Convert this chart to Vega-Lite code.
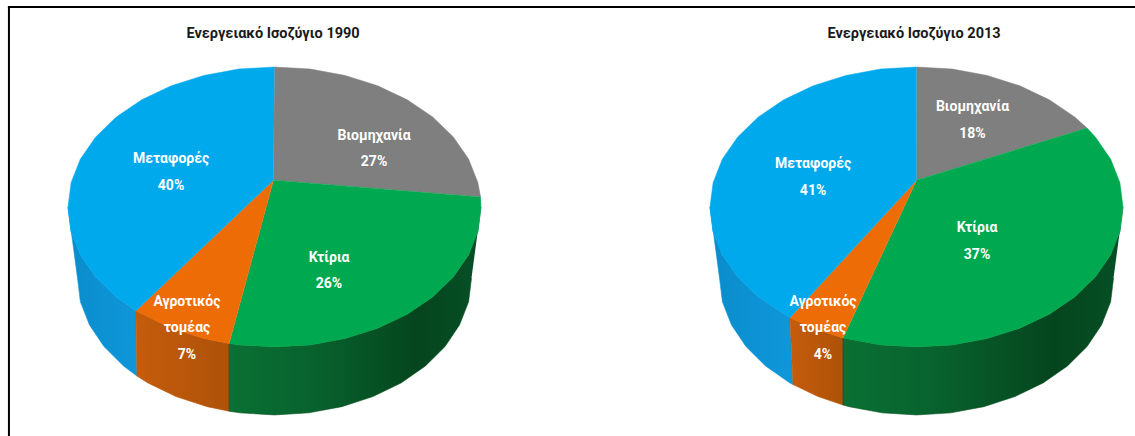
{
  "$schema": "https://vega.github.io/schema/vega-lite/v6.json",
  "padding": 0,
  "autosize": {"type": "pad"},
  "spacing": 0,
  "bounds": "flush",
  "background": "white",
  "config": {"view": {"stroke": null}},
  "datasets": {
    "labels": [
      {"year": 1990, "sector": "Βιομηχανία", "share": 27, "label": "Βιομηχανία\n27%", "x": 48.2, "y": 34.4},
      {"year": 1990, "sector": "Κτίρια", "share": 26, "label": "Κτίρια\n26%", "x": 26.4, "y": -24.7},
      {"year": 1990, "sector": "Αγροτικός τομέας", "share": 7, "label": "Αγροτικός\nτομέας\n7%", "x": -42.4, "y": -46},
      {"year": 1990, "sector": "Μεταφορές", "share": 40, "label": "Μεταφορές\n40%", "x": -50.1, "y": 23.2},
      {"year": 2013, "sector": "Βιομηχανία", "share": 18, "label": "Βιομηχανία\n18%", "x": 27.1, "y": 48.4},
      {"year": 2013, "sector": "Κτίρια", "share": 37, "label": "Κτίρια\n37%", "x": 29.3, "y": -10.2},
      {"year": 2013, "sector": "Αγροτικός τομέας", "share": 4, "label": "Αγροτικός\nτομέας\n4%", "x": -45.3, "y": -46},
      {"year": 2013, "sector": "Μεταφορές", "share": 41, "label": "Μεταφορές\n41%", "x": -50.1, "y": 20.8}
    ],
    "titles": [
      {"year": 1990, "title": "Ενεργειακό Ισοζύγιο 1990", "x": -0.7, "y": 84},
      {"year": 2013, "title": "Ενεργειακό Ισοζύγιο 2013", "x": -1.2, "y": 84}
    ],
    "frame": [
      {"year": 1990, "x": -128.6, "x2": -128.6, "y": -110.9, "y2": 96.9},
      {"year": 1990, "x": -128.6, "x2": 141.65, "y": 96.9, "y2": 96.9},
      {"year": 2013, "x": -169.25, "x2": 105.8, "y": 96.9, "y2": 96.9}
    ],
    "slices1990": [
      {"sector":"Βιομηχανία","n":0,"x":-0.5,"y":13},{"sector":"Βιομηχανία","n":1,"x":0,"y":67.8},{"sector":"Βιομηχανία","n":2,"x":17.4,"y":66.8},{"sector":"Βιομηχανία","n":3,"x":34.2,"y":63.7},{"sector":"Βιομηχανία","n":4,"x":50,"y":58.7},{"sector":"Βιομηχανία","n":5,"x":64.3,"y":51.9},{"sector":"Βιομηχανία","n":6,"x":76.6,"y":43.6},{"sector":"Βιομηχανία","n":7,"x":86.6,"y":33.9},{"sector":"Βιομηχανία","n":8,"x":94,"y":23.2},{"sector":"Βιομηχανία","n":9,"x":98.5,"y":11.8},{"sector":"Βιομηχανία","n":10,"x":99.8,"y":4.8},
      {"sector":"Κτίρια","n":0,"x":-0.5,"y":13},{"sector":"Κτίρια","n":1,"x":99.8,"y":4.8},{"sector":"Κτίρια","n":2,"x":100,"y":0},{"sector":"Κτίρια","n":3,"x":98.5,"y":-11.8},{"sector":"Κτίρια","n":4,"x":94,"y":-23.2},{"sector":"Κτίρια","n":5,"x":86.6,"y":-33.9},{"sector":"Κτίρια","n":6,"x":76.6,"y":-43.6},{"sector":"Κτίρια","n":7,"x":64.3,"y":-51.9},{"sector":"Κτίρια","n":8,"x":50,"y":-58.7},{"sector":"Κτίρια","n":9,"x":34.2,"y":-63.7},{"sector":"Κτίρια","n":10,"x":17.4,"y":-66.8},{"sector":"Κτίρια","n":11,"x":0,"y":-67.8},{"sector":"Κτίρια","n":12,"x":-17.4,"y":-66.8},{"sector":"Κτίρια","n":13,"x":-22,"y":-66.1},
      {"sector":"Αγροτικός τομέας","n":0,"x":-0.5,"y":13},{"sector":"Αγροτικός τομέας","n":1,"x":-22,"y":-66.1},{"sector":"Αγροτικός τομέας","n":2,"x":-34.2,"y":-63.7},{"sector":"Αγροτικός τομέας","n":3,"x":-50,"y":-58.7},{"sector":"Αγροτικός τομέας","n":4,"x":-67.1,"y":-50.3},
      {"sector":"Μεταφορές","n":0,"x":-0.5,"y":13},{"sector":"Μεταφορές","n":1,"x":-67.1,"y":-50.3},{"sector":"Μεταφορές","n":2,"x":-76.6,"y":-43.6},{"sector":"Μεταφορές","n":3,"x":-86.6,"y":-33.9},{"sector":"Μεταφορές","n":4,"x":-94,"y":-23.2},{"sector":"Μεταφορές","n":5,"x":-98.5,"y":-11.8},{"sector":"Μεταφορές","n":6,"x":-100,"y":0},{"sector":"Μεταφορές","n":7,"x":-98.5,"y":11.8},{"sector":"Μεταφορές","n":8,"x":-94,"y":23.2},{"sector":"Μεταφορές","n":9,"x":-86.6,"y":33.9},{"sector":"Μεταφορές","n":10,"x":-76.6,"y":43.6},{"sector":"Μεταφορές","n":11,"x":-64.3,"y":51.9},{"sector":"Μεταφορές","n":12,"x":-50,"y":58.7},{"sector":"Μεταφορές","n":13,"x":-34.2,"y":63.7},{"sector":"Μεταφορές","n":14,"x":-17.4,"y":66.8},{"sector":"Μεταφορές","n":15,"x":0,"y":67.8}
    ],
    "walls1990": [
      {"sector":"Κτίρια","n":0,"x":100,"y":0},{"sector":"Κτίρια","n":1,"x":98.5,"y":-11.8},{"sector":"Κτίρια","n":2,"x":94,"y":-23.2},{"sector":"Κτίρια","n":3,"x":86.6,"y":-33.9},{"sector":"Κτίρια","n":4,"x":76.6,"y":-43.6},{"sector":"Κτίρια","n":5,"x":64.3,"y":-51.9},{"sector":"Κτίρια","n":6,"x":50,"y":-58.7},{"sector":"Κτίρια","n":7,"x":34.2,"y":-63.7},{"sector":"Κτίρια","n":8,"x":17.4,"y":-66.8},{"sector":"Κτίρια","n":9,"x":0,"y":-67.8},{"sector":"Κτίρια","n":10,"x":-17.4,"y":-66.8},{"sector":"Κτίρια","n":11,"x":-22,"y":-66.1},{"sector":"Κτίρια","n":12,"x":-22,"y":-98.9},{"sector":"Κτίρια","n":13,"x":-16.6,"y":-99.7},{"sector":"Κτίρια","n":14,"x":0,"y":-100.7},{"sector":"Κτίρια","n":15,"x":16.6,"y":-99.7},{"sector":"Κτίρια","n":16,"x":32.6,"y":-96.7},{"sector":"Κτίρια","n":17,"x":47.7,"y":-91.8},{"sector":"Κτίρια","n":18,"x":61.3,"y":-85.2},{"sector":"Κτίρια","n":19,"x":73.1,"y":-77},{"sector":"Κτίρια","n":20,"x":82.6,"y":-67.55},{"sector":"Κτίρια","n":21,"x":89.6,"y":-57.1},{"sector":"Κτίρια","n":22,"x":94,"y":-45.9},{"sector":"Κτίρια","n":23,"x":95.4,"y":-34.4},
      {"sector":"Αγροτικός τομέας","n":0,"x":-22,"y":-66.1},{"sector":"Αγροτικός τομέας","n":1,"x":-34.2,"y":-63.7},{"sector":"Αγροτικός τομέας","n":2,"x":-50,"y":-58.7},{"sector":"Αγροτικός τομέας","n":3,"x":-67.1,"y":-50.3},{"sector":"Αγροτικός τομέας","n":4,"x":-66.6,"y":-81.9},{"sector":"Αγροτικός τομέας","n":5,"x":-61.3,"y":-85.2},{"sector":"Αγροτικός τομέας","n":6,"x":-47.7,"y":-91.8},{"sector":"Αγροτικός τομέας","n":7,"x":-32.6,"y":-96.7},{"sector":"Αγροτικός τομέας","n":8,"x":-22,"y":-98.9},
      {"sector":"Μεταφορές","n":0,"x":-67.1,"y":-50.3},{"sector":"Μεταφορές","n":1,"x":-76.6,"y":-43.6},{"sector":"Μεταφορές","n":2,"x":-86.6,"y":-33.9},{"sector":"Μεταφορές","n":3,"x":-94,"y":-23.2},{"sector":"Μεταφορές","n":4,"x":-98.5,"y":-11.8},{"sector":"Μεταφορές","n":5,"x":-100,"y":0},{"sector":"Μεταφορές","n":6,"x":-95.4,"y":-34.4},{"sector":"Μεταφορές","n":7,"x":-94,"y":-45.9},{"sector":"Μεταφορές","n":8,"x":-89.6,"y":-57.1},{"sector":"Μεταφορές","n":9,"x":-82.6,"y":-67.55},{"sector":"Μεταφορές","n":10,"x":-73.1,"y":-77},{"sector":"Μεταφορές","n":11,"x":-66.6,"y":-81.9}
    ],
    "slices2013": [
      {"sector":"Βιομηχανία","n":0,"x":0,"y":13},{"sector":"Βιομηχανία","n":1,"x":0,"y":67.8},{"sector":"Βιομηχανία","n":2,"x":17.4,"y":66.8},{"sector":"Βιομηχανία","n":3,"x":34.2,"y":63.7},{"sector":"Βιομηχανία","n":4,"x":50,"y":58.7},{"sector":"Βιομηχανία","n":5,"x":64.3,"y":51.9},{"sector":"Βιομηχανία","n":6,"x":76.6,"y":43.6},{"sector":"Βιομηχανία","n":7,"x":82.6,"y":38.2},
      {"sector":"Κτίρια","n":0,"x":0,"y":13},{"sector":"Κτίρια","n":1,"x":82.6,"y":38.2},{"sector":"Κτίρια","n":2,"x":86.6,"y":33.9},{"sector":"Κτίρια","n":3,"x":94,"y":23.2},{"sector":"Κτίρια","n":4,"x":98.5,"y":11.8},{"sector":"Κτίρια","n":5,"x":100,"y":0},{"sector":"Κτίρια","n":6,"x":98.5,"y":-11.8},{"sector":"Κτίρια","n":7,"x":94,"y":-23.2},{"sector":"Κτίρια","n":8,"x":86.6,"y":-33.9},{"sector":"Κτίρια","n":9,"x":76.6,"y":-43.6},{"sector":"Κτίρια","n":10,"x":64.3,"y":-51.9},{"sector":"Κτίρια","n":11,"x":50,"y":-58.7},{"sector":"Κτίρια","n":12,"x":34.2,"y":-63.7},{"sector":"Κτίρια","n":13,"x":17.4,"y":-66.8},{"sector":"Κτίρια","n":14,"x":0,"y":-67.8},{"sector":"Κτίρια","n":15,"x":-17.4,"y":-66.8},{"sector":"Κτίρια","n":16,"x":-35.6,"y":-63.4},
      {"sector":"Αγροτικός τομέας","n":0,"x":0,"y":13},{"sector":"Αγροτικός τομέας","n":1,"x":-35.6,"y":-63.4},{"sector":"Αγροτικός τομέας","n":2,"x":-50,"y":-58.7},{"sector":"Αγροτικός τομέας","n":3,"x":-61.3,"y":-53.6},
      {"sector":"Μεταφορές","n":0,"x":0,"y":13},{"sector":"Μεταφορές","n":1,"x":-61.3,"y":-53.6},{"sector":"Μεταφορές","n":2,"x":-76.6,"y":-43.6},{"sector":"Μεταφορές","n":3,"x":-86.6,"y":-33.9},{"sector":"Μεταφορές","n":4,"x":-94,"y":-23.2},{"sector":"Μεταφορές","n":5,"x":-98.5,"y":-11.8},{"sector":"Μεταφορές","n":6,"x":-100,"y":0},{"sector":"Μεταφορές","n":7,"x":-98.5,"y":11.8},{"sector":"Μεταφορές","n":8,"x":-94,"y":23.2},{"sector":"Μεταφορές","n":9,"x":-86.6,"y":33.9},{"sector":"Μεταφορές","n":10,"x":-76.6,"y":43.6},{"sector":"Μεταφορές","n":11,"x":-64.3,"y":51.9},{"sector":"Μεταφορές","n":12,"x":-50,"y":58.7},{"sector":"Μεταφορές","n":13,"x":-34.2,"y":63.7},{"sector":"Μεταφορές","n":14,"x":-17.4,"y":66.8},{"sector":"Μεταφορές","n":15,"x":0,"y":67.8}
    ],
    "walls2013": [
      {"sector":"Κτίρια","n":0,"x":100,"y":0},{"sector":"Κτίρια","n":1,"x":98.5,"y":-11.8},{"sector":"Κτίρια","n":2,"x":94,"y":-23.2},{"sector":"Κτίρια","n":3,"x":86.6,"y":-33.9},{"sector":"Κτίρια","n":4,"x":76.6,"y":-43.6},{"sector":"Κτίρια","n":5,"x":64.3,"y":-51.9},{"sector":"Κτίρια","n":6,"x":50,"y":-58.7},{"sector":"Κτίρια","n":7,"x":34.2,"y":-63.7},{"sector":"Κτίρια","n":8,"x":17.4,"y":-66.8},{"sector":"Κτίρια","n":9,"x":0,"y":-67.8},{"sector":"Κτίρια","n":10,"x":-17.4,"y":-66.8},{"sector":"Κτίρια","n":11,"x":-35.6,"y":-63.4},{"sector":"Κτίρια","n":12,"x":-35.6,"y":-95.9},{"sector":"Κτίρια","n":13,"x":-32.6,"y":-96.7},{"sector":"Κτίρια","n":14,"x":-16.6,"y":-99.7},{"sector":"Κτίρια","n":15,"x":0,"y":-100.7},{"sector":"Κτίρια","n":16,"x":16.6,"y":-99.7},{"sector":"Κτίρια","n":17,"x":32.6,"y":-96.7},{"sector":"Κτίρια","n":18,"x":47.7,"y":-91.8},{"sector":"Κτίρια","n":19,"x":61.3,"y":-85.2},{"sector":"Κτίρια","n":20,"x":73.1,"y":-77},{"sector":"Κτίρια","n":21,"x":82.6,"y":-67.55},{"sector":"Κτίρια","n":22,"x":89.6,"y":-57.1},{"sector":"Κτίρια","n":23,"x":94,"y":-45.9},{"sector":"Κτίρια","n":24,"x":95.4,"y":-34.4},
      {"sector":"Αγροτικός τομέας","n":0,"x":-35.6,"y":-63.4},{"sector":"Αγροτικός τομέας","n":1,"x":-50,"y":-58.7},{"sector":"Αγροτικός τομέας","n":2,"x":-61.3,"y":-53.6},{"sector":"Αγροτικός τομέας","n":3,"x":-59.8,"y":-86},{"sector":"Αγροτικός τομέας","n":4,"x":-47.7,"y":-91.8},{"sector":"Αγροτικός τομέας","n":5,"x":-35.6,"y":-95.9},
      {"sector":"Μεταφορές","n":0,"x":-61.3,"y":-53.6},{"sector":"Μεταφορές","n":1,"x":-76.6,"y":-43.6},{"sector":"Μεταφορές","n":2,"x":-86.6,"y":-33.9},{"sector":"Μεταφορές","n":3,"x":-94,"y":-23.2},{"sector":"Μεταφορές","n":4,"x":-98.5,"y":-11.8},{"sector":"Μεταφορές","n":5,"x":-100,"y":0},{"sector":"Μεταφορές","n":6,"x":-95.4,"y":-34.4},{"sector":"Μεταφορές","n":7,"x":-94,"y":-45.9},{"sector":"Μεταφορές","n":8,"x":-89.6,"y":-57.1},{"sector":"Μεταφορές","n":9,"x":-82.6,"y":-67.55},{"sector":"Μεταφορές","n":10,"x":-73.1,"y":-77},{"sector":"Μεταφορές","n":11,"x":-61.3,"y":-85.2},{"sector":"Μεταφορές","n":12,"x":-59.8,"y":-86}
    ]
  },
  "hconcat": [
    {
      "width": 567,
      "height": 436,
      "encoding": {
        "x": {"field": "x", "type": "quantitative", "axis": null, "scale": {"domain": [-132.93, 141.65], "nice": false, "zero": false}},
        "y": {"field": "y", "type": "quantitative", "axis": null, "scale": {"domain": [-110.9, 100.24], "nice": false, "zero": false}}
      },
      "layer": [
        {
          "data": {"name": "frame"},
          "transform": [{"filter": "datum.year == 1990"}],
          "mark": {"type": "rule", "color": "#000000", "strokeWidth": 2, "strokeCap": "square"},
          "encoding": {"x2": {"field": "x2"}, "y2": {"field": "y2"}}
        },
        {
          "data": {"name": "walls1990"},
          "transform": [{"filter": "datum.sector == 'Μεταφορές'"}],
          "mark": {"type": "line", "stroke": "#0f93d4", "strokeWidth": 0.6, "fill": {"gradient": "linear", "x1": 0, "y1": 0, "x2": 1, "y2": 0, "stops": [{"offset": 0, "color": "#0a8ccb"}, {"offset": 1, "color": "#0f97da"}]}},
          "encoding": {"order": {"field": "n"}}
        },
        {
          "data": {"name": "walls1990"},
          "transform": [{"filter": "datum.sector == 'Αγροτικός τομέας'"}],
          "mark": {"type": "line", "stroke": "#b85608", "strokeWidth": 0.6, "fill": {"gradient": "linear", "x1": 0, "y1": 0, "x2": 1, "y2": 0, "stops": [{"offset": 0, "color": "#c55c0c"}, {"offset": 1, "color": "#ad5208"}]}},
          "encoding": {"order": {"field": "n"}}
        },
        {
          "data": {"name": "walls1990"},
          "transform": [{"filter": "datum.sector == 'Κτίρια'"}],
          "mark": {"type": "line", "stroke": "#06501f", "strokeWidth": 0.6, "fill": {"gradient": "linear", "x1": 0, "y1": 0, "x2": 1, "y2": 0, "stops": [{"offset": 0, "color": "#0a7034"}, {"offset": 0.35, "color": "#08612d"}, {"offset": 0.75, "color": "#05451e"}, {"offset": 1, "color": "#065026"}]}},
          "encoding": {"order": {"field": "n"}}
        },
        {
          "data": {"name": "slices1990"},
          "mark": {"type": "line", "strokeWidth": 0.5},
          "encoding": {
            "order": {"field": "n"},
            "fill": {"field": "sector", "type": "nominal", "legend": null, "scale": {"domain": ["Βιομηχανία", "Κτίρια", "Αγροτικός τομέας", "Μεταφορές"], "range": ["#7f7f7f", "#00a94f", "#ed6c05", "#00a8ec"]}},
            "stroke": {"field": "sector", "type": "nominal", "legend": null, "scale": {"domain": ["Βιομηχανία", "Κτίρια", "Αγροτικός τομέας", "Μεταφορές"], "range": ["#7f7f7f", "#00a94f", "#ed6c05", "#00a8ec"]}}
          }
        },
        {
          "data": {"name": "titles"},
          "transform": [{"filter": "datum.year == 1990"}],
          "mark": {"type": "text", "font": "Roboto", "fontSize": 14.5, "fontWeight": "bold", "color": "#1a1a1a"},
          "encoding": {"text": {"field": "title"}}
        },
        {
          "data": {"name": "labels"},
          "transform": [{"filter": "datum.year == 1990"}],
          "mark": {"type": "text", "font": "Roboto", "fontSize": 14, "fontWeight": "bold", "color": "#ffffff", "lineBreak": "\n", "lineHeight": 26.5, "align": "center", "baseline": "middle"},
          "encoding": {"text": {"field": "label"}}
        }
      ]
    },
    {
      "width": 568,
      "height": 436,
      "encoding": {
        "x": {"field": "x", "type": "quantitative", "axis": null, "scale": {"domain": [-169.25, 105.8], "nice": false, "zero": false}},
        "y": {"field": "y", "type": "quantitative", "axis": null, "scale": {"domain": [-110.9, 100.24], "nice": false, "zero": false}}
      },
      "layer": [
        {
          "data": {"name": "frame"},
          "transform": [{"filter": "datum.year == 2013"}],
          "mark": {"type": "rule", "color": "#000000", "strokeWidth": 2, "strokeCap": "square"},
          "encoding": {"x2": {"field": "x2"}, "y2": {"field": "y2"}}
        },
        {
          "data": {"name": "walls2013"},
          "transform": [{"filter": "datum.sector == 'Μεταφορές'"}],
          "mark": {"type": "line", "stroke": "#0f93d4", "strokeWidth": 0.6, "fill": {"gradient": "linear", "x1": 0, "y1": 0, "x2": 1, "y2": 0, "stops": [{"offset": 0, "color": "#0a8ccb"}, {"offset": 1, "color": "#0f97da"}]}},
          "encoding": {"order": {"field": "n"}}
        },
        {
          "data": {"name": "walls2013"},
          "transform": [{"filter": "datum.sector == 'Αγροτικός τομέας'"}],
          "mark": {"type": "line", "stroke": "#b85608", "strokeWidth": 0.6, "fill": {"gradient": "linear", "x1": 0, "y1": 0, "x2": 1, "y2": 0, "stops": [{"offset": 0, "color": "#c55c0c"}, {"offset": 1, "color": "#ad5208"}]}},
          "encoding": {"order": {"field": "n"}}
        },
        {
          "data": {"name": "walls2013"},
          "transform": [{"filter": "datum.sector == 'Κτίρια'"}],
          "mark": {"type": "line", "stroke": "#06501f", "strokeWidth": 0.6, "fill": {"gradient": "linear", "x1": 0, "y1": 0, "x2": 1, "y2": 0, "stops": [{"offset": 0, "color": "#0a7034"}, {"offset": 0.35, "color": "#08612d"}, {"offset": 0.75, "color": "#05451e"}, {"offset": 1, "color": "#065026"}]}},
          "encoding": {"order": {"field": "n"}}
        },
        {
          "data": {"name": "slices2013"},
          "mark": {"type": "line", "strokeWidth": 0.5},
          "encoding": {
            "order": {"field": "n"},
            "fill": {"field": "sector", "type": "nominal", "legend": null, "scale": {"domain": ["Βιομηχανία", "Κτίρια", "Αγροτικός τομέας", "Μεταφορές"], "range": ["#7f7f7f", "#00a94f", "#ed6c05", "#00a8ec"]}},
            "stroke": {"field": "sector", "type": "nominal", "legend": null, "scale": {"domain": ["Βιομηχανία", "Κτίρια", "Αγροτικός τομέας", "Μεταφορές"], "range": ["#7f7f7f", "#00a94f", "#ed6c05", "#00a8ec"]}}
          }
        },
        {
          "data": {"name": "titles"},
          "transform": [{"filter": "datum.year == 2013"}],
          "mark": {"type": "text", "font": "Roboto", "fontSize": 14.5, "fontWeight": "bold", "color": "#1a1a1a"},
          "encoding": {"text": {"field": "title"}}
        },
        {
          "data": {"name": "labels"},
          "transform": [{"filter": "datum.year == 2013"}],
          "mark": {"type": "text", "font": "Roboto", "fontSize": 14, "fontWeight": "bold", "color": "#ffffff", "lineBreak": "\n", "lineHeight": 26.5, "align": "center", "baseline": "middle"},
          "encoding": {"text": {"field": "label"}}
        }
      ]
    }
  ]
}
